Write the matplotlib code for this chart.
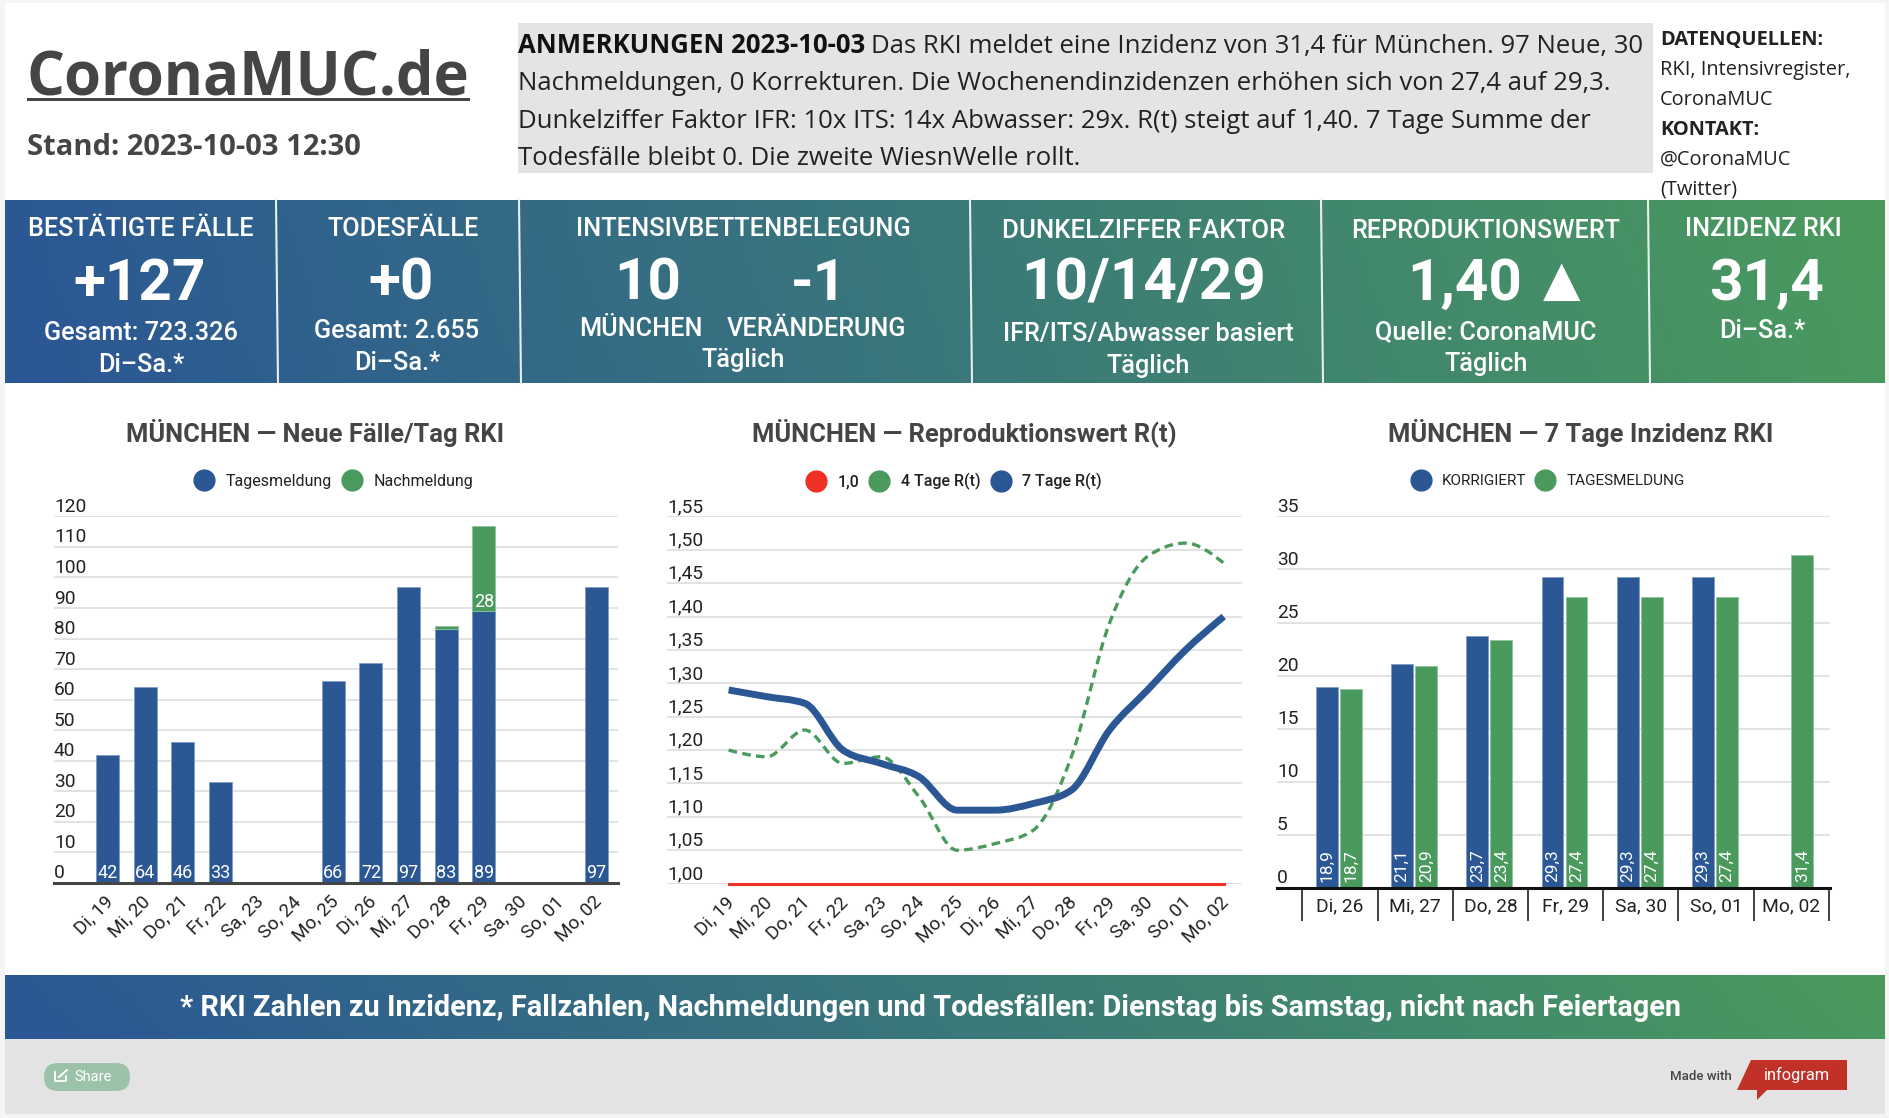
import numpy as np
import matplotlib
matplotlib.use("Agg")
import matplotlib.pyplot as plt
from matplotlib.lines import Line2D
from matplotlib.patches import FancyBboxPatch, PathPatch, Polygon, Rectangle
from matplotlib.path import Path
from matplotlib.transforms import ScaledTranslation

plt.rcParams["font.family"] = ["Roboto", "DejaVu Sans"]

W, H = 1890, 1118

BLUE = "#2b5795"
GREEN = "#4a9a5e"
RED = "#ee3124"
GRID = "#e2e2e2"
DARK = "#454545"

# Chart data
days_cases = ["Di, 19", "Mi, 20", "Do, 21", "Fr, 22", "Sa, 23", "So, 24", "Mo, 25",
              "Di, 26", "Mi, 27", "Do, 28", "Fr, 29", "Sa, 30", "So, 01", "Mo, 02"]
tagesmeldung = [42, 64, 46, 33, 0, 0, 66, 72, 97, 83, 89, 0, 0, 97]
nachmeldung = [0, 0, 0, 0, 0, 0, 0, 0, 0, 1, 28, 0, 0, 0]

r_one = [1.00] * 14
r_four = [1.20, 1.19, 1.23, 1.18, 1.19, 1.13, 1.05, 1.06, 1.08, 1.19, 1.39, 1.49, 1.51, 1.48]
r_seven = [1.29, 1.28, 1.27, 1.20, 1.18, 1.16, 1.11, 1.11, 1.12, 1.14, 1.23, 1.29, 1.35, 1.40]

days_inc = ["Di, 26", "Mi, 27", "Do, 28", "Fr, 29", "Sa, 30", "So, 01", "Mo, 02"]
inc_korrigiert = [18.9, 21.1, 23.7, 29.3, 29.3, 29.3, None]
inc_tagesmeldung = [18.7, 20.9, 23.4, 27.4, 27.4, 27.4, 31.4]

ticks_cases = list(range(0, 121, 10))
ticks_r = [1.00, 1.05, 1.10, 1.15, 1.20, 1.25, 1.30, 1.35, 1.40, 1.45, 1.50, 1.55]
ticks_inc = [0, 5, 10, 15, 20, 25, 30, 35]

notes = ["Das RKI meldet eine Inzidenz von 31,4 für München. 97 Neue, 30",
         "Nachmeldungen, 0 Korrekturen. Die Wochenendinzidenzen erhöhen sich von 27,4 auf 29,3.",
         "Dunkelziffer Faktor IFR: 10x ITS: 14x Abwasser: 29x. R(t) steigt auf 1,40. 7 Tage Summe der",
         "Todesfälle bleibt 0. Die zweite WiesnWelle rollt."]

# text, x, y, size, weight
banner_texts = [
    ("BESTÄTIGTE FÄLLE", 141, 229.5, 18.2, "medium"),
    ("+127", 140, 284, 42, "bold"),
    ("Gesamt: 723.326", 141, 333, 18.2, "medium"),
    ("Di–Sa.*", 141, 365.5, 18.2, "medium"),
    ("TODESFÄLLE", 403, 229.5, 18.2, "medium"),
    ("+0", 401, 284, 42, "bold"),
    ("Gesamt: 2.655", 397, 331.5, 18.2, "medium"),
    ("Di–Sa.*", 397, 363.5, 18.2, "medium"),
    ("INTENSIVBETTENBELEGUNG", 743, 229.5, 18.4, "medium"),
    ("10", 648, 284, 42, "bold"),
    ("-1", 819, 284, 42, "bold"),
    ("MÜNCHEN", 641, 329, 18.2, "medium"),
    ("VERÄNDERUNG", 817, 329, 18.2, "medium"),
    ("Täglich", 743, 360, 18.2, "medium"),
    ("DUNKELZIFFER FAKTOR", 1144, 230.5, 18.6, "medium"),
    ("10/14/29", 1144, 284, 42, "bold"),
    ("IFR/ITS/Abwasser basiert", 1148, 334, 18.2, "medium"),
    ("Täglich", 1148, 366, 18.2, "medium"),
    ("REPRODUKTIONSWERT", 1486, 230.5, 18.2, "medium"),
    ("1,40", 1465, 284, 42, "bold"),
    ("Quelle: CoronaMUC", 1486, 332, 18.2, "medium"),
    ("Täglich", 1486, 364, 18.2, "medium"),
    ("INZIDENZ RKI", 1763, 229.5, 18.2, "medium"),
    ("31,4", 1767, 284, 42, "bold"),
    ("Di–Sa.*", 1762, 331.5, 18.2, "medium"),
]

fig = plt.figure(figsize=(W / 100, H / 100), dpi=100, facecolor="#f5f5f5")

# page layer in pixel coordinates
page = fig.add_axes([0, 0, 1, 1], zorder=0)
page.set_xlim(0, W)
page.set_ylim(H, 0)
page.axis("off")
page.add_patch(Rectangle((5, 3), 1880, 1111, fc="white", ec="none"))


def gradient(x0, x1, y0, y1):
    xx, yy = np.meshgrid(np.linspace(0, 1, 300), np.linspace(0, 1, 20))
    t = np.clip(xx + 0.03 * (0.5 - yy), 0, 1)[..., None]
    c0 = np.array(matplotlib.colors.to_rgb(BLUE))
    c1 = np.array(matplotlib.colors.to_rgb(GREEN))
    page.imshow(c0 + (c1 - c0) * t, extent=(x0, x1, y1, y0), aspect="auto", zorder=1)
    page.set_xlim(0, W)
    page.set_ylim(H, 0)


# header
page.text(27, 94.5, "CoronaMUC.de", family="Open Sans", weight="bold", fontsize=43, color=DARK, va="baseline")
page.add_patch(Rectangle((27, 97.5), 443, 3, fc=DARK, ec="none"))
page.text(27, 155, "Stand: 2023-10-03 12:30", family="Open Sans", weight="bold", fontsize=21, color=DARK, va="baseline")
page.add_patch(Rectangle((518, 23), 1135, 150, fc="#e4e4e4", ec="none"))

note_y = [52.7, 90, 127.7, 164.7]
head = page.text(518, note_y[0], "ANMERKUNGEN 2023-10-03", family="Open Sans", weight="bold", fontsize=18.55, color="#111111", va="baseline")
fig.canvas.draw()
head_end = head.get_window_extent().x1
page.text(head_end + 6, note_y[0], notes[0], family="Open Sans", fontsize=18.55, color="#222222", va="baseline")
for line, y in zip(notes[1:], note_y[1:]):
    page.text(518, y, line, family="Open Sans", fontsize=18.55, color="#222222", va="baseline")

side = [("DATENQUELLEN:", "bold", 40), ("RKI, Intensivregister,", "normal", 70), ("CoronaMUC", "normal", 100),
        ("KONTAKT:", "bold", 130), ("@CoronaMUC", "normal", 160), ("(Twitter)", "normal", 190)]
for txt, wgt, y in side:
    page.text(1660, y, txt, family="Open Sans", weight=wgt, fontsize=14.4, color="#222222", va="center")

# banner with the six panels
gradient(5, 1885, 200, 383)
for x in [276, 519, 970, 1321, 1648]:
    page.plot([x, x + 2], [200, 383], color="#e8eeee", lw=1.5, zorder=2)
for txt, x, y, size, wgt in banner_texts:
    page.text(x, y, txt, ha="center", va="center", color="white", fontsize=size, weight=wgt, zorder=3)
page.text(1562, 281, "▲", family="DejaVu Sans", ha="center", va="center", color="white", fontsize=35, zorder=3)

# footer
gradient(5, 1885, 975, 1039)
page.text(931, 1008, "* RKI Zahlen zu Inzidenz, Fallzahlen, Nachmeldungen und Todesfällen: Dienstag bis Samstag, nicht nach Feiertagen",
          ha="center", va="center", color="white", fontsize=20.8, weight="bold", zorder=3)
page.add_patch(Rectangle((5, 1039), 1880, 75, fc="#e3e3e3", ec="none"))
page.add_patch(FancyBboxPatch((44, 1063), 86, 28, boxstyle="round,pad=0,rounding_size=14", fc="#9cc3aa", ec="none"))
page.plot([55, 55, 66, 66], [1072, 1081, 1081, 1076], color="white", lw=1.3)
page.plot([59, 67], [1077, 1070], color="white", lw=1.4)
page.text(74, 1077, "Share", color="white", fontsize=10.5, va="center")
page.text(1670, 1076, "Made with", color="#444444", fontsize=9.5, weight="medium", va="center")
page.add_patch(Polygon([(1751, 1060), (1847, 1060), (1847, 1090), (1767, 1090), (1757, 1100), (1757, 1090), (1737, 1090)],
                       closed=True, fc="#c23127", ec="none"))
page.text(1797, 1075, "infogram", color="white", fontsize=11.8, va="center", ha="center")


def make_axes(left, right, top, bottom, xlim, ylim, yticks, ylabels):
    ax = fig.add_axes([left / W, 1 - bottom / H, (right - left) / W, (bottom - top) / H], zorder=2)
    ax.patch.set_alpha(0)
    ax.set_xlim(*xlim)
    ax.set_ylim(*ylim)
    for s in ax.spines.values():
        s.set_visible(False)
    ax.set_yticks(yticks)
    ax.set_yticklabels(ylabels, fontsize=13.8, color="#222222", ha="left", va="baseline")
    ax.tick_params(axis="y", length=0, pad=0)
    shift = ScaledTranslation(0, 3.2 / 72, fig.dpi_scale_trans)
    for lab in ax.get_yticklabels():
        lab.set_transform(lab.get_transform() + shift)
    ax.grid(axis="y", color=GRID, lw=1.4)
    ax.set_axisbelow(True)
    return ax


def rotated_xlabels(ax, labels):
    ax.set_xticks(range(len(labels)))
    ax.set_xticklabels(labels, rotation=45, ha="right", va="center", rotation_mode="anchor",
                       fontsize=13.6, color="#222222")
    ax.tick_params(axis="x", length=0, pad=11.4)
    shift = ScaledTranslation(2.4 / 100, 0, fig.dpi_scale_trans)
    for lab in ax.get_xticklabels():
        lab.set_transform(lab.get_transform() + shift)


def add_legend(ax, items, cx, cy, size, wgt):
    handles = [Line2D([], [], marker="o", ls="", ms=15, color=c, label=t) for t, c in items]
    ax.legend(handles=handles, ncol=len(items), loc="center", bbox_to_anchor=(cx / W, 1 - cy / H),
              bbox_transform=fig.transFigure, frameon=False, handlelength=1.0, handletextpad=0.85,
              columnspacing=0.75, borderpad=0, labelcolor="#222222",
              prop={"family": "Roboto", "size": size, "weight": wgt})


def add_title(text, cx):
    page.text(cx, 433, text, ha="center", va="center", color=DARK, fontsize=18.4, weight="bold", zorder=3)


def monotone_path(xs, ys):
    # smooth line through the values, same idea as the monotone curve of the original
    xs = np.asarray(xs, float)
    ys = np.asarray(ys, float)
    s = np.diff(ys) / np.diff(xs)
    m = np.zeros(len(xs))
    for i in range(1, len(xs) - 1):
        if s[i - 1] * s[i] > 0:
            m[i] = np.sign(s[i]) * min(2 * abs(s[i - 1]), 2 * abs(s[i]), abs(s[i - 1] + s[i]) / 2)
    m[0] = (3 * s[0] - m[1]) / 2
    m[-1] = (3 * s[-1] - m[-2]) / 2
    verts = [(xs[0], ys[0])]
    codes = [Path.MOVETO]
    for i in range(len(xs) - 1):
        h = (xs[i + 1] - xs[i]) / 3
        verts += [(xs[i] + h, ys[i] + m[i] * h), (xs[i + 1] - h, ys[i + 1] - m[i + 1] * h), (xs[i + 1], ys[i + 1])]
        codes += [Path.CURVE4] * 3
    return Path(verts, codes)


def bar_value(ax, x, y, txt):
    ax.annotate(txt, (x, y), xytext=(0, 0.3), textcoords="offset points", ha="center", va="bottom",
                color="white", fontsize=13)


# chart 1, new cases
ax1 = make_axes(54, 618, 516.4, 882.9, (-1.43, 13.57), (0, 120), ticks_cases, [str(v) for v in ticks_cases])
for x, a, b in zip(range(len(days_cases)), tagesmeldung, nachmeldung):
    if a:
        ax1.bar(x, a, width=0.61, color=BLUE, edgecolor="#7f9cc4", lw=0.6)
        bar_value(ax1, x, 0, str(a))
    if b:
        ax1.bar(x, b, width=0.61, bottom=a, color=GREEN, edgecolor="#8fc2a0", lw=0.6)
    if b > 1:
        bar_value(ax1, x, a, str(b))
ax1.spines["bottom"].set_visible(True)
ax1.spines["bottom"].set_color(DARK)
ax1.spines["bottom"].set_linewidth(2.2)
rotated_xlabels(ax1, days_cases)
add_legend(ax1, [("Tagesmeldung", BLUE), ("Nachmeldung", GREEN)], 335, 481.5, 11.5, "normal")
add_title("MÜNCHEN — Neue Fälle/Tag RKI", 315)

# chart 2, reproduction number
ax2 = make_axes(667, 1242, 516.4, 883.6, (-1.618, 13.48), (1.00, 1.55), ticks_r, [f"{v:.2f}".replace(".", ",") for v in ticks_r])
x2 = np.arange(len(days_cases))
ax2.plot(x2, r_one, color=RED, lw=2.2, zorder=3, clip_on=False)
ax2.add_patch(PathPatch(monotone_path(x2, r_four), fill=False, ec=GREEN, lw=2.4, ls=(0, (2.6, 1.6)), zorder=4))
ax2.add_patch(PathPatch(monotone_path(x2, r_seven), fill=False, ec=BLUE, lw=5.0, zorder=5, capstyle="butt"))
rotated_xlabels(ax2, days_cases)
add_legend(ax2, [("1,0", RED), ("4 Tage R(t)", GREEN), ("7 Tage R(t)", BLUE)], 955, 481.5, 11.5, "medium")
add_title("MÜNCHEN — Reproduktionswert R(t)", 964)

# chart 3, incidence
ax3 = make_axes(1277, 1830, 516.4, 887.9, (-0.838, 6.516), (0, 35), ticks_inc, [str(v) for v in ticks_inc])
x3 = np.arange(len(days_inc))
for x, a, b in zip(x3, inc_korrigiert, inc_tagesmeldung):
    if a is not None:
        ax3.bar(x - 0.175, a, width=0.29, color=BLUE, edgecolor="#7f9cc4", lw=0.6)
        ax3.annotate(str(a).replace(".", ","), (x - 0.175, 0), xytext=(0, 4), textcoords="offset points",
                     ha="center", va="bottom", rotation=90, color="white", fontsize=12.5)
    ax3.bar(x + 0.145, b, width=0.29, color=GREEN, edgecolor="#8fc2a0", lw=0.6)
    ax3.annotate(str(b).replace(".", ","), (x + 0.145, 0), xytext=(0, 4), textcoords="offset points",
                 ha="center", va="bottom", rotation=90, color="white", fontsize=12.5)
ax3.spines["bottom"].set_visible(True)
ax3.spines["bottom"].set_color("#111111")
ax3.spines["bottom"].set_linewidth(2.2)
ax3.set_xticks(x3)
ax3.set_xticklabels(days_inc, fontsize=13.8, color="#222222")
ax3.set_xticks(np.arange(len(days_inc) + 1) - 0.5, minor=True)
ax3.tick_params(axis="x", which="major", length=0, pad=7)
ax3.tick_params(axis="x", which="minor", length=24, width=1.3, color="#333333")
add_legend(ax3, [("KORRIGIERT", BLUE), ("TAGESMELDUNG", GREEN)], 1549, 481, 11, "normal")
add_title("MÜNCHEN — 7 Tage Inzidenz RKI", 1581)

fig.savefig("out.png", dpi=100, facecolor=fig.get_facecolor())
